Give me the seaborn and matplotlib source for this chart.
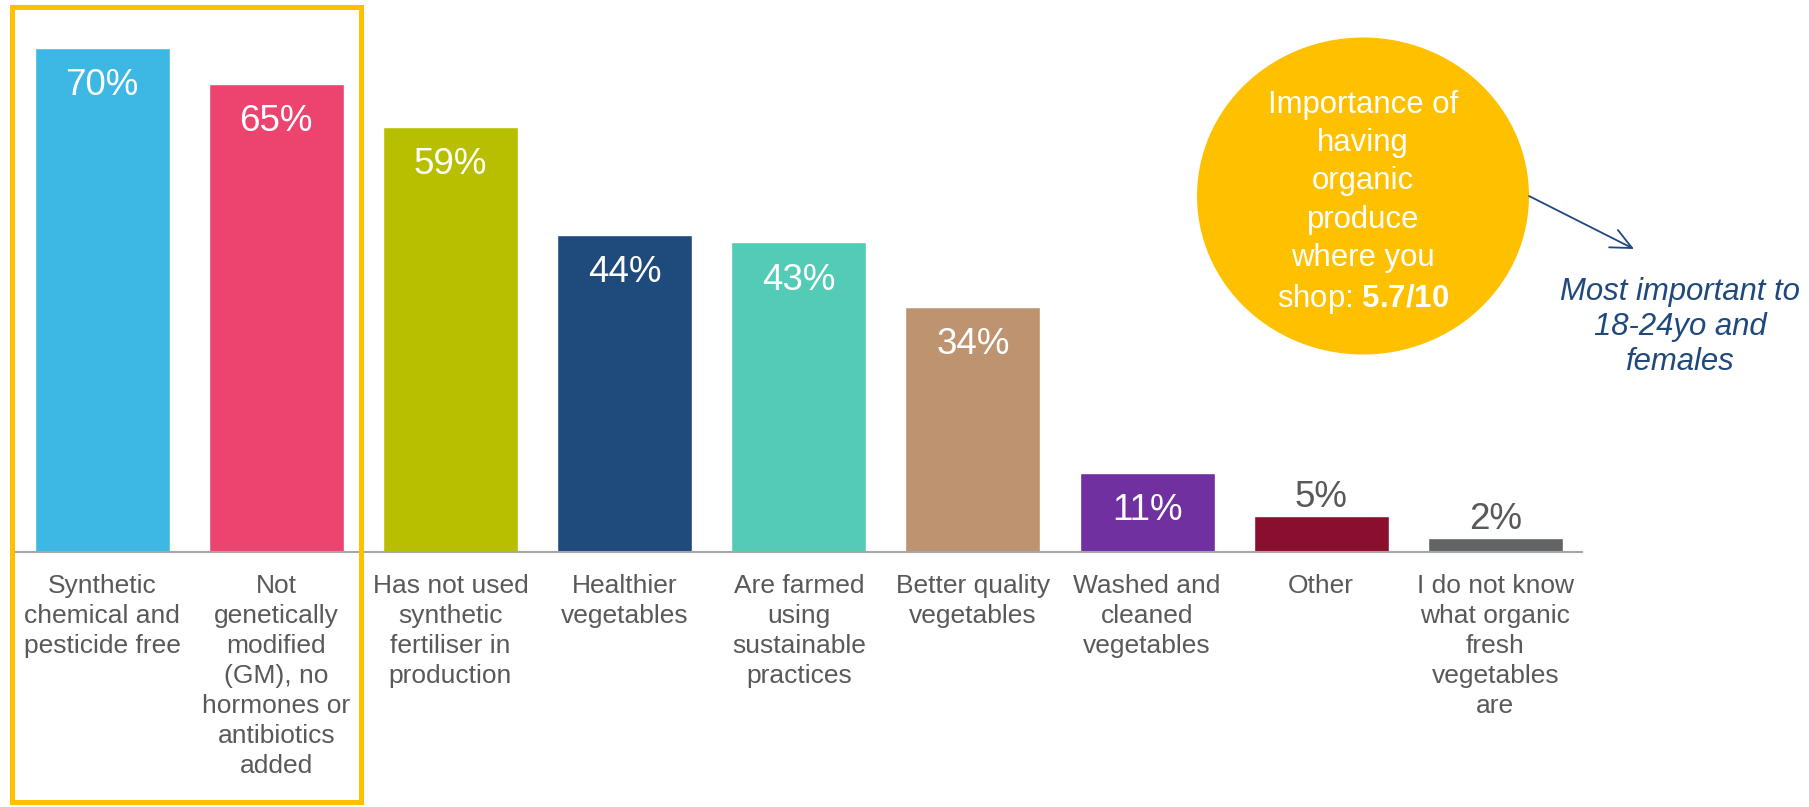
import numpy as np
import pandas as pd
import seaborn as sns
import matplotlib
matplotlib.use("Agg")
import matplotlib.pyplot as plt
from matplotlib.patches import Ellipse, Rectangle

# ---- data -------------------------------------------------------------
categories = [
    "Synthetic\nchemical and\npesticide free",
    "Not\ngenetically\nmodified\n(GM), no\nhormones or\nantibiotics\nadded",
    "Has not used\nsynthetic\nfertiliser in\nproduction",
    "Healthier\nvegetables",
    "Are farmed\nusing\nsustainable\npractices",
    "Better quality\nvegetables",
    "Washed and\ncleaned\nvegetables",
    "Other",
    "I do not know\nwhat organic\nfresh\nvegetables\nare",
]
values = [70, 65, 59, 44, 43, 34, 11, 5, 2]
bar_colors = ["#3DB7E4", "#EC446F", "#B7BF00", "#1F4A7C", "#53CBB6",
              "#BE936F", "#7030A0", "#8A0F2E", "#636466"]
circle_text = "Importance of\nhaving\norganic\nproduce\nwhere you\nshop: $\\mathbf{5.7/10}$"
side_note = "Most important to\n18-24yo and\nfemales"

# ---- style ------------------------------------------------------------
sns.set_style("white")
plt.rcParams["font.family"] = ["Liberation Sans", "DejaVu Sans"]
plt.rcParams["mathtext.fontset"] = "custom"
plt.rcParams["mathtext.rm"] = "Liberation Sans"
plt.rcParams["mathtext.bf"] = "Liberation Sans:bold"

W, H = 1809, 807
fig = plt.figure(figsize=(W / 100, H / 100), dpi=100)

ax_left, ax_right, ax_base = 15, 1582.5, 552
ax = fig.add_axes([ax_left / W, (H - ax_base) / H,
                   (ax_right - ax_left) / W, ax_base / H])

df = pd.DataFrame({"category": categories, "value": values})
sns.barplot(data=df, x="category", y="value", hue="category",
            palette=bar_colors, order=categories, hue_order=categories,
            saturation=1, width=0.776, legend=False, ax=ax)

ax.set_xlim(-0.5, len(categories) - 0.5)
ax.set_ylim(0, 76.67)
ax.set_xlabel("")
ax.set_ylabel("")
ax.set_yticks([])
sns.despine(ax=ax, left=True)
ax.spines["bottom"].set_color("#A6A6A6")
ax.spines["bottom"].set_linewidth(1.5)

ax.set_xticks(range(len(categories)))
ax.set_xticklabels(categories, fontsize=19, color="#595959", linespacing=1.32)
ax.set_xticks(np.arange(-0.5, len(categories), 1), minor=True)
ax.tick_params(axis="x", which="major", length=0, pad=15.5)
ax.tick_params(axis="x", which="minor", length=6, width=1.5,
               color="#A6A6A6", direction="out")

# value labels: inside the bar when tall enough, above it otherwise
for i, v in enumerate(values):
    if v >= 10:
        ax.annotate(f"{v}%", (i, v), xytext=(0, -34), textcoords="offset points",
                    ha="center", va="baseline", color="white", fontsize=26.5)
    else:
        ax.annotate(f"{v}%", (i, v), xytext=(0, 6.5), textcoords="offset points",
                    ha="center", va="baseline", color="#595959", fontsize=26.5)

# ---- overlay in pixel coordinates for the callouts ----------------------
ov = fig.add_axes([0, 0, 1, 1], zorder=5)
ov.set_xlim(0, W)
ov.set_ylim(H, 0)
ov.axis("off")
ov.patch.set_alpha(0)

# highlight frame around the first two categories
ov.add_patch(Rectangle((12, 7), 349, 795, fill=False,
                       edgecolor="#FFC000", linewidth=3.6))

# score bubble
ov.add_patch(Ellipse((1363, 196), 332, 317, facecolor="#FFC000", edgecolor="none"))
ov.text(1363, 203, circle_text, ha="center", va="center", color="white",
        fontsize=22.4, linespacing=1.36)

ov.annotate("", xy=(1634, 249), xytext=(1529, 196),
            arrowprops=dict(arrowstyle="->,head_length=0.75,head_width=0.35",
                            color="#1F497D", lw=1.3, mutation_scale=20,
                            shrinkA=0, shrinkB=0))

ov.text(1680, 327, side_note, ha="center", va="center", color="#1F497D",
        fontsize=22.4, fontstyle="italic", linespacing=1.22)

fig.savefig("out.png", dpi=100)
